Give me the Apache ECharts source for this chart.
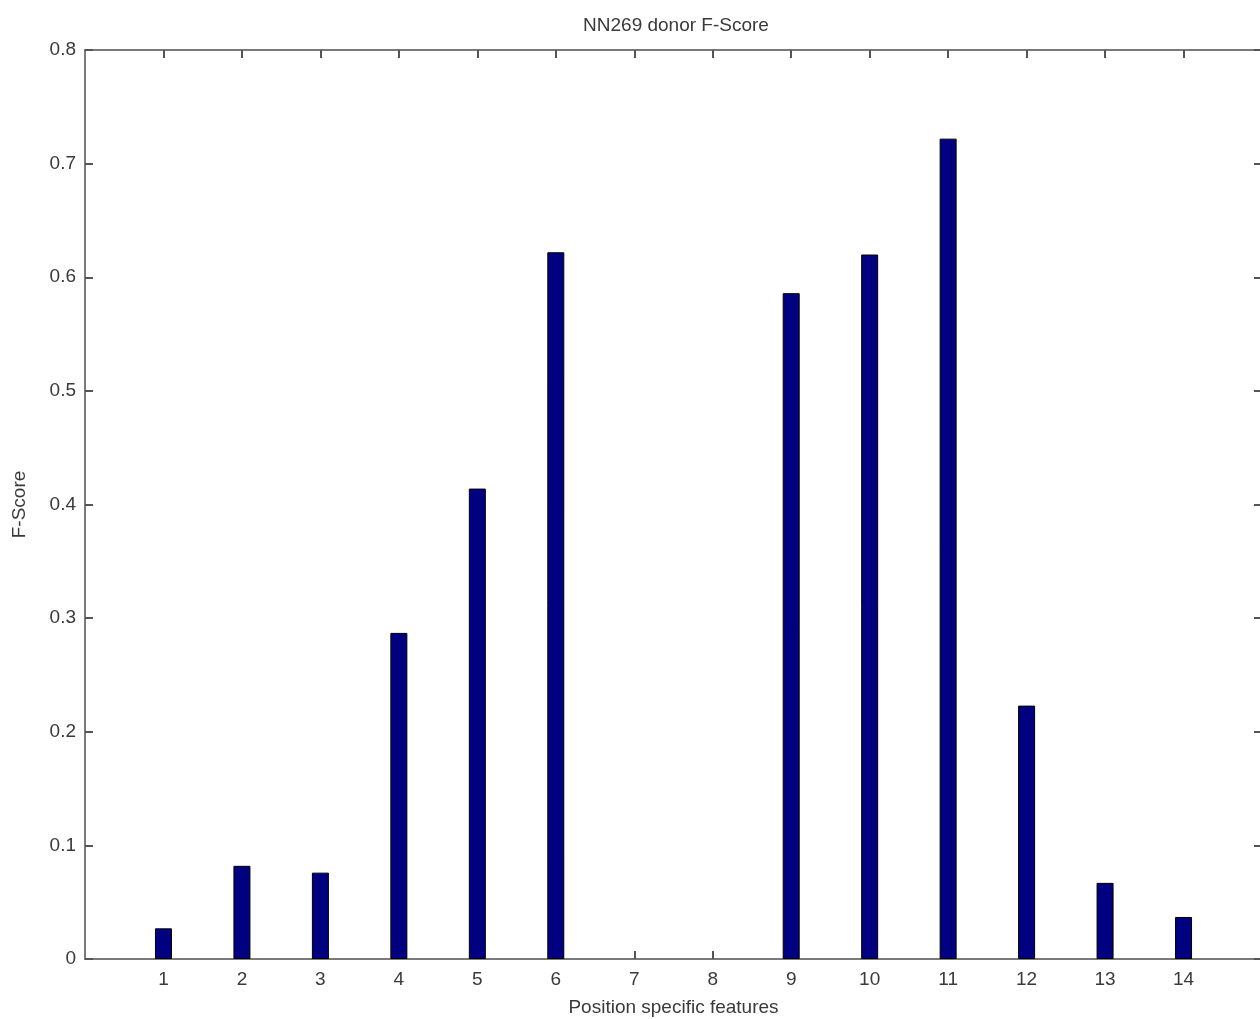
<!DOCTYPE html>
<html>
<head>
<meta charset="utf-8">
<script src="https://cdn.jsdelivr.net/npm/echarts@6/dist/echarts.min.js"></script>
<style>
  html, body { margin: 0; padding: 0; background: #fff; }
  #chart { width: 1260px; height: 1019px; }
</style>
</head>
<body>
<div id="chart"></div>
<script>
// feature positions and their F-scores
const positions = [1, 2, 3, 4, 5, 6, 7, 8, 9, 10, 11, 12, 13, 14];
const fScores = [0.027, 0.082, 0.076, 0.287, 0.414, 0.622, 0, 0, 0.586, 0.620, 0.722, 0.223, 0.067, 0.037];

const axisColor = '#7a7a7a';
const textColor = '#3a3a3a';
const font = 'Liberation Sans, Arial, sans-serif';

let chart = echarts.init(document.getElementById('chart'));

let boxAxis = (pos, showLabel) => ({
    type: 'value',
    position: pos,
    min: 0,
    max: 15,
    interval: 1,
    axisLine: { show: true, onZero: false, lineStyle: { color: axisColor, width: 2 } },
    axisTick: {
        show: true, inside: true, length: 8,
        lineStyle: { color: '#555', width: 2 },
        customValues: positions
    },
    axisLabel: {
        show: showLabel,
        margin: 11,
        color: textColor,
        fontFamily: font,
        fontSize: 19,
        customValues: positions
    },
    splitLine: { show: false }
});

let yAxis = (pos, showLabel) => ({
    type: 'value',
    position: pos,
    min: 0,
    max: 0.8,
    interval: 0.1,
    axisLine: { show: true, onZero: false, lineStyle: { color: axisColor, width: 2 } },
    axisTick: { show: true, inside: true, length: 8, lineStyle: { color: '#555', width: 2 } },
    axisLabel: {
        show: showLabel,
        margin: 9,
        color: textColor,
        fontFamily: font,
        fontSize: 19,
        formatter: v => (Math.round(v * 10) / 10).toString()
    },
    splitLine: { show: false }
});

let xMain = boxAxis('bottom', true);
xMain.name = 'Position specific features';
xMain.nameLocation = 'middle';
xMain.nameGap = 39;
xMain.nameTextStyle = { color: textColor, fontFamily: font, fontSize: 19 };

let yMain = yAxis('left', true);
yMain.name = 'F-Score';
yMain.nameLocation = 'middle';
yMain.nameGap = 56;
yMain.nameTextStyle = { color: textColor, fontFamily: font, fontSize: 19 };

chart.setOption({
    backgroundColor: '#fff',
    animation: false,
    title: {
        text: 'NN269 donor F-Score',
        left: 671,
        textAlign: 'center',
        top: 11,
        textStyle: { color: textColor, fontFamily: font, fontSize: 19, fontWeight: 'normal' }
    },
    grid: { left: 85, top: 50, width: 1177, bottom: 60, containLabel: false, outerBoundsMode: 'none' },
    xAxis: [xMain, boxAxis('top', false)],
    yAxis: [yMain, yAxis('right', false)],
    series: [{
        type: 'bar',
        xAxisIndex: 0,
        yAxisIndex: 0,
        barWidth: 17,
        itemStyle: { color: '#000080', borderColor: '#000', borderWidth: 1 },
        data: positions.map((p, i) => ({
            value: [p, fScores[i]],
            itemStyle: fScores[i] === 0 ? { borderWidth: 0 } : undefined
        }))
    }]
});
</script>
</body>
</html>
